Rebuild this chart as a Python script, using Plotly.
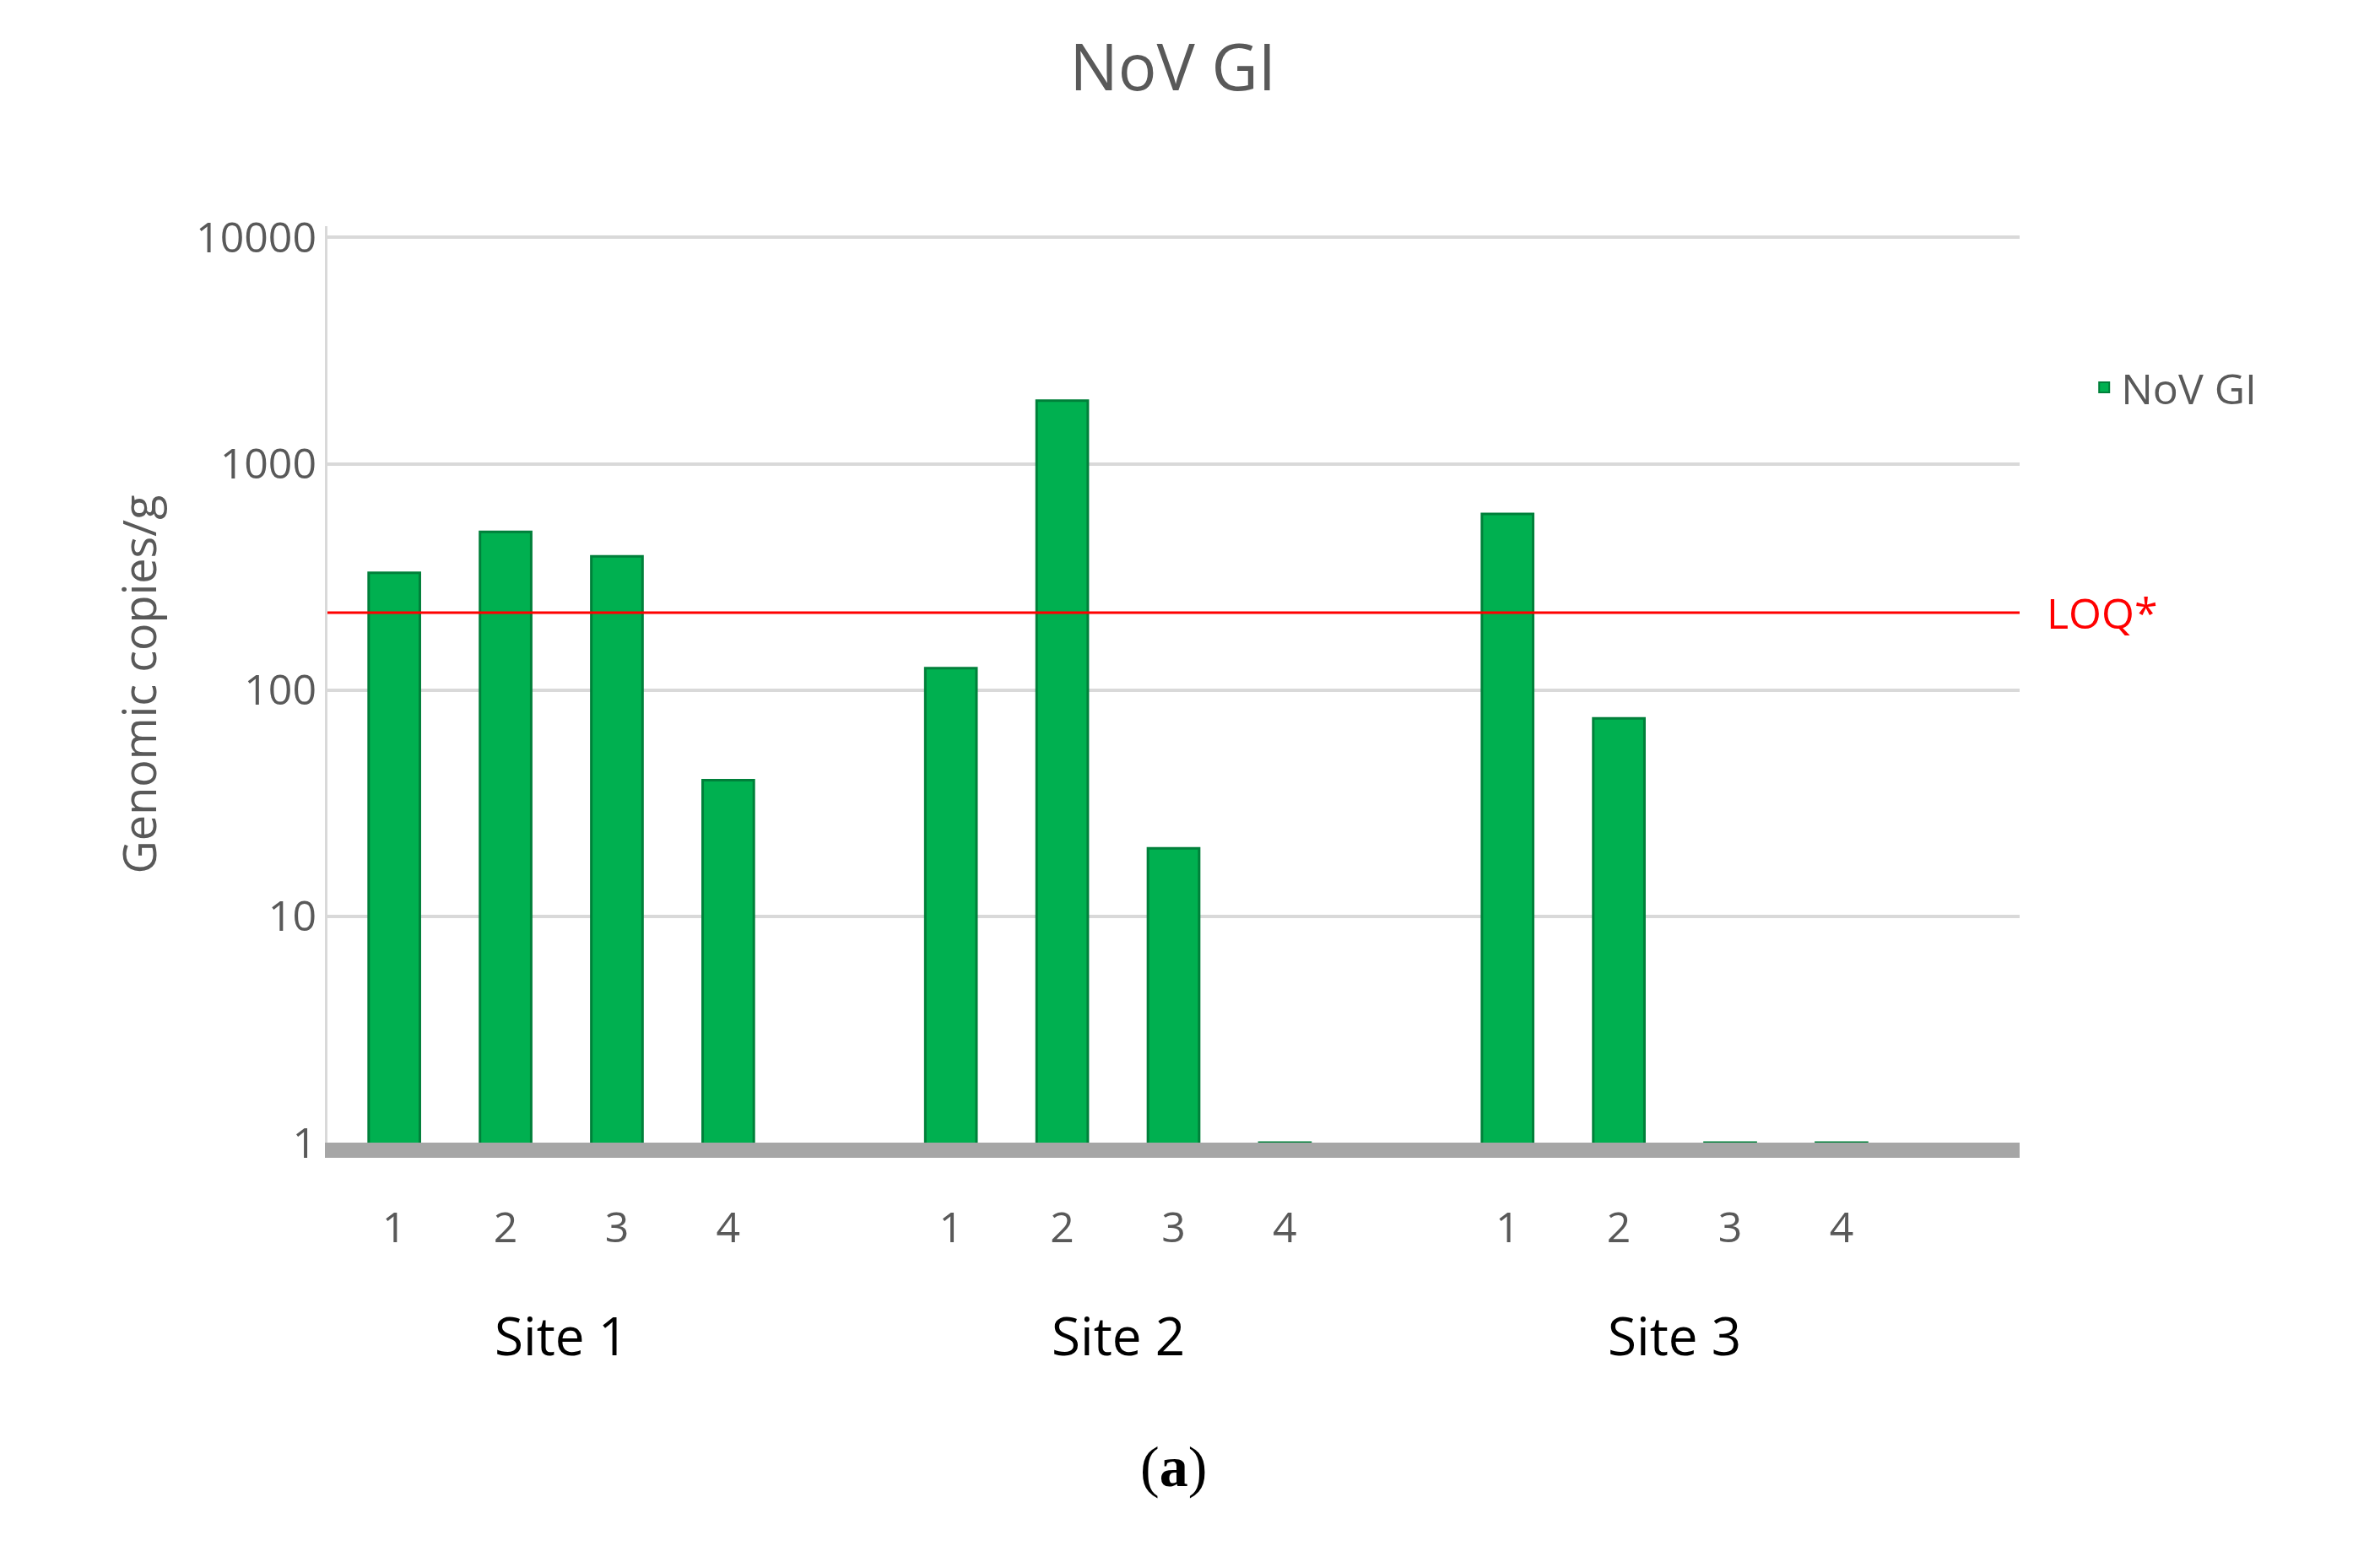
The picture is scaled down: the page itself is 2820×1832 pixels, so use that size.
import math
import plotly.graph_objects as go

# sample positions (gap of one slot between sites)
x_pos = [0, 1, 2, 3, 5, 6, 7, 8, 10, 11, 12, 13]
sample_labels = ["1", "2", "3", "4"] * 3
values = [330, 500, 390, 40, 125, 1900, 20, 1, 600, 75, 1, 1]
site_names = ["Site 1", "Site 2", "Site 3"]
site_centers = [1.5, 6.5, 11.5]
loq = 220

fig = go.Figure()
fig.add_trace(go.Bar(
    x=x_pos, y=values, name="NoV GI", width=0.46,
    marker=dict(color="#00b050", line=dict(color="#00803a", width=3)),
))
fig.add_trace(go.Scatter(
    x=[-0.6, 14.6], y=[loq, loq], mode="lines", showlegend=False,
    line=dict(color="#ff0000", width=3),
))

fig.add_annotation(x=1.015, xref="paper", y=math.log10(loq), yref="y", text="LOQ*",
                   showarrow=False, xanchor="left",
                   font=dict(color="#ff0000", size=50, family="Open Sans"))
for name, c in zip(site_names, site_centers):
    fig.add_annotation(x=c, y=-0.25, yref="paper", text=name, showarrow=False,
                       font=dict(color="black", size=62, family="Open Sans"))
fig.add_annotation(x=0.5, xref="paper", y=-0.39, yref="paper", text="(<b>a</b>)",
                   showarrow=False, font=dict(color="black", size=68, family="Liberation Serif"))

fig.update_layout(
    width=2820, height=1832,
    paper_bgcolor="white", plot_bgcolor="white",
    margin=dict(l=380, r=435, t=260, b=486),
    title=dict(text="NoV GI", x=0.49, y=0.975, yanchor="top",
               font=dict(size=76, color="#595959", family="Open Sans")),
    font=dict(family="Open Sans", color="#595959"),
    legend=dict(x=1.04, y=0.86, font=dict(size=50, color="#595959"), itemsizing="constant"),
    bargap=0.5,
)
fig.update_yaxes(
    type="log", range=[0, 4.05], tickvals=[1, 10, 100, 1000, 10000],
    ticktext=["1", "10", "100", "1000", "10000"],
    tickfont=dict(size=50, color="#595959"), showgrid=True,
    gridcolor="#d9d9d9", gridwidth=4, zeroline=False,
    title=dict(text="Genomic copies/g", font=dict(size=54, color="#595959"), standoff=30),
    showline=True, linecolor="#d9d9d9", linewidth=3,
)
fig.update_xaxes(
    tickvals=x_pos, ticktext=sample_labels, range=[-0.6, 14.6],
    tickfont=dict(size=50, color="#595959"), showgrid=False,
    showline=True, linecolor="#a6a6a6", linewidth=18, ticks="", ticklabelstandoff=40,
)

fig.write_html("out.html")
